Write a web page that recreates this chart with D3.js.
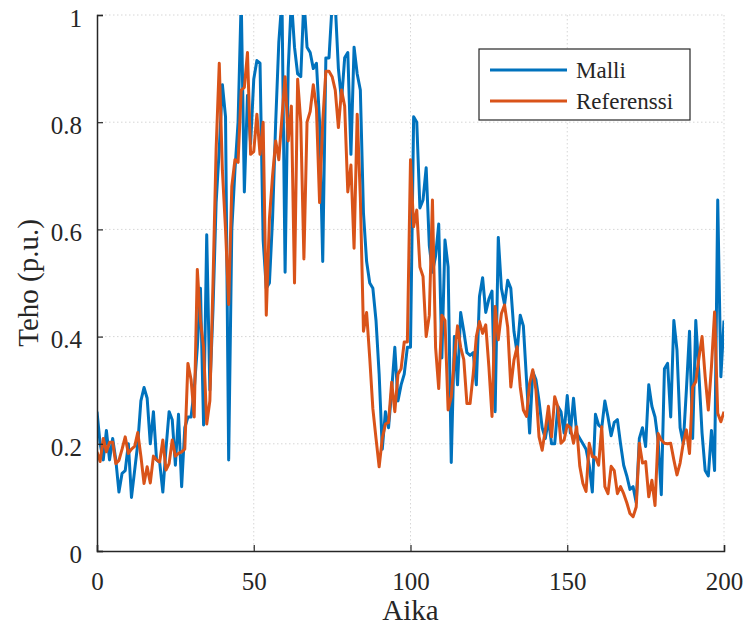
<!DOCTYPE html>
<html>
<head>
<meta charset="utf-8">
<script src="https://cdn.jsdelivr.net/npm/d3@7"></script>
<style>
  body { margin: 0; background: #fff; }
  text { font-family: "Liberation Serif", "Times New Roman", serif; fill: #262626; }
</style>
</head>
<body>
<script>
// values, one per time step 0..200
var malli = [
  0.26, 0.20, 0.17, 0.225, 0.17, 0.21, 0.17, 0.11, 0.145, 0.15,
  0.20, 0.10, 0.15, 0.20, 0.28, 0.305, 0.285, 0.20, 0.26, 0.17,
  0.165, 0.11, 0.19, 0.26, 0.245, 0.16, 0.255, 0.12, 0.23, 0.25,
  0.25, 0.30, 0.38, 0.49, 0.235, 0.59, 0.30, 0.45, 0.65, 0.75,
  0.87, 0.81, 0.17, 0.60, 0.71, 0.80, 1.03, 0.67, 0.85, 0.76,
  0.88, 0.915, 0.91, 0.58, 0.49, 0.50, 0.62, 0.80, 0.95, 1.03,
  0.52, 0.90, 1.03, 0.94, 0.89, 0.885, 1.03, 0.94, 0.93, 0.90,
  0.91, 0.80, 0.54, 0.92, 0.92, 1.02, 1.02, 0.90, 0.84, 0.92,
  0.93, 0.74, 0.94, 0.89, 0.86, 0.63, 0.54, 0.50, 0.49, 0.43,
  0.33, 0.19, 0.26, 0.23, 0.30, 0.38, 0.28, 0.31, 0.33, 0.38,
  0.38, 0.81, 0.80, 0.64, 0.655, 0.715, 0.57, 0.52, 0.55, 0.61,
  0.36, 0.58, 0.53, 0.165, 0.40, 0.31, 0.445, 0.41, 0.37, 0.365,
  0.37, 0.31, 0.475, 0.51, 0.445, 0.47, 0.485, 0.26, 0.585, 0.49,
  0.46, 0.505, 0.49, 0.41, 0.37, 0.44, 0.42, 0.32, 0.22, 0.335,
  0.32, 0.28, 0.23, 0.21, 0.245, 0.20, 0.20, 0.27, 0.26, 0.22,
  0.29, 0.22, 0.285, 0.22, 0.21, 0.20, 0.19, 0.16, 0.11, 0.255,
  0.235, 0.23, 0.28, 0.25, 0.215, 0.24, 0.245, 0.20, 0.16, 0.14,
  0.115, 0.12, 0.09, 0.21, 0.23, 0.195, 0.31, 0.27, 0.25, 0.205,
  0.105, 0.34, 0.35, 0.25, 0.43, 0.375, 0.23, 0.20, 0.30, 0.41,
  0.21, 0.43, 0.33, 0.22, 0.15, 0.14, 0.225, 0.15, 0.655, 0.325,
  0.43
];

var referenssi = [
  0.185, 0.167, 0.21, 0.185, 0.203, 0.203, 0.163, 0.169, 0.19, 0.213,
  0.182, 0.19, 0.195, 0.221, 0.177, 0.126, 0.157, 0.127, 0.177, 0.17,
  0.166, 0.207, 0.151, 0.163, 0.207, 0.177, 0.182, 0.185, 0.19, 0.35,
  0.32, 0.25, 0.525, 0.43, 0.38, 0.237, 0.28, 0.50, 0.75, 0.91,
  0.71, 0.60, 0.46, 0.68, 0.73, 0.725, 0.86, 0.865, 0.93, 0.74,
  0.745, 0.815, 0.74, 0.80, 0.44, 0.62, 0.70, 0.765, 0.73, 0.81,
  0.885, 0.765, 0.83, 0.50, 0.88, 0.80, 0.545, 0.80, 0.82, 0.87,
  0.825, 0.65, 0.80, 0.895, 0.895, 0.885, 0.86, 0.79, 0.86, 0.83,
  0.67, 0.72, 0.565, 0.815, 0.66, 0.41, 0.445, 0.36, 0.265, 0.21,
  0.157, 0.21, 0.237, 0.24, 0.315, 0.26, 0.33, 0.34, 0.39, 0.39,
  0.73, 0.605, 0.636, 0.53, 0.512, 0.40, 0.44, 0.655, 0.38, 0.303,
  0.44, 0.43, 0.263, 0.288, 0.36, 0.42, 0.38, 0.357, 0.275, 0.275,
  0.33, 0.40, 0.428, 0.406, 0.422, 0.344, 0.251, 0.456, 0.394, 0.443,
  0.459, 0.418, 0.306, 0.356, 0.381, 0.306, 0.263, 0.251, 0.313, 0.338,
  0.301, 0.213, 0.188, 0.226, 0.27, 0.213, 0.288, 0.269, 0.201, 0.207,
  0.235, 0.23, 0.201, 0.232, 0.158, 0.126, 0.111, 0.201, 0.176, 0.175,
  0.16, 0.232, 0.12, 0.107, 0.158, 0.15, 0.107, 0.12, 0.107, 0.09,
  0.07, 0.064, 0.082, 0.201, 0.164, 0.167, 0.101, 0.132, 0.085, 0.219,
  0.207, 0.201, 0.20, 0.201, 0.17, 0.142, 0.164, 0.201, 0.226, 0.182,
  0.306, 0.316, 0.36, 0.40, 0.325, 0.263, 0.344, 0.446, 0.257, 0.241,
  0.26
];

var seriesNames = ["Malli", "Referenssi"];
var seriesColors = ["#0072BD", "#D95319"];
var xTicks = [0, 50, 100, 150, 200];
var yTicks = [0, 0.2, 0.4, 0.6, 0.8, 1];

var W = 745, H = 628;
var pLeft = 97, pRight = 724, pTop = 15, pBottom = 551;

var svg = d3.select("body").append("svg")
  .attr("width", W)
  .attr("height", H);

var x = d3.scaleLinear().domain([0, 200]).range([pLeft, pRight]);
var y = d3.scaleLinear().domain([0, 1]).range([pBottom, pTop]);

// grid
svg.append("g").selectAll("line")
  .data(yTicks.slice(1))
  .enter().append("line")
    .attr("x1", pLeft).attr("x2", pRight)
    .attr("y1", d => y(d)).attr("y2", d => y(d))
    .attr("stroke", "#d6d6d6").attr("stroke-width", 1)
    .attr("stroke-dasharray", "1.5,2.5");
svg.append("g").selectAll("line")
  .data(xTicks.slice(1))
  .enter().append("line")
    .attr("x1", d => x(d)).attr("x2", d => x(d))
    .attr("y1", pTop).attr("y2", pBottom)
    .attr("stroke", "#d6d6d6").attr("stroke-width", 1)
    .attr("stroke-dasharray", "1.5,2.5");

svg.append("clipPath").attr("id", "plot")
  .append("rect")
    .attr("x", pLeft).attr("y", pTop)
    .attr("width", pRight - pLeft).attr("height", pBottom - pTop);

var line = d3.line()
  .x((d, i) => x(i))
  .y(d => y(d));

[malli, referenssi].forEach(function(s, k) {
  svg.append("path")
    .datum(s)
    .attr("clip-path", "url(#plot)")
    .attr("fill", "none")
    .attr("stroke", seriesColors[k])
    .attr("stroke-width", 3)
    .attr("stroke-linejoin", "round")
    .attr("d", line);
});

// axes, MATLAB style ticks pointing in
var xAxis = svg.append("g")
  .attr("transform", "translate(0," + pBottom + ")")
  .call(d3.axisBottom(x).tickValues(xTicks).tickSize(-6).tickPadding(21)
    .tickFormat(d3.format("d")));
var yAxis = svg.append("g")
  .attr("transform", "translate(" + pLeft + ",0)")
  .call(d3.axisLeft(y).tickValues(yTicks).tickSize(-6).tickPadding(15)
    .tickFormat(d => d === 0 || d === 1 ? String(d) : d.toFixed(1)));

[xAxis, yAxis].forEach(function(g) {
  g.select(".domain").attr("stroke", "#262626").attr("stroke-width", 1.5);
  g.selectAll(".tick line").attr("stroke", "#262626").attr("stroke-width", 1.2);
  g.selectAll(".tick text")
    .attr("fill", "#262626")
    .style("font-family", '"Liberation Serif", serif')
    .style("font-size", "25px");
});
yAxis.selectAll(".tick text").attr("dy", "0.45em");

svg.append("text")
  .attr("x", (pLeft + pRight) / 2)
  .attr("y", 620)
  .attr("text-anchor", "middle")
  .style("font-size", "29px")
  .text("Aika");

svg.append("text")
  .attr("transform", "translate(38," + (pBottom + pTop) / 2 + ") rotate(-90)")
  .attr("text-anchor", "middle")
  .style("font-size", "29px")
  .text("Teho (p.u.)");

// legend
var lg = svg.append("g").attr("transform", "translate(479,49)");
lg.append("rect")
  .attr("width", 211).attr("height", 71)
  .attr("fill", "#fff").attr("stroke", "#262626").attr("stroke-width", 1.2);
seriesNames.forEach(function(name, k) {
  var yy = 21 + k * 31;
  lg.append("line")
    .attr("x1", 11).attr("x2", 88)
    .attr("y1", yy).attr("y2", yy)
    .attr("stroke", seriesColors[k]).attr("stroke-width", 3);
  lg.append("text")
    .attr("x", 97).attr("y", yy + 8)
    .style("font-size", "23px")
    .text(name);
});
</script>
</body>
</html>
